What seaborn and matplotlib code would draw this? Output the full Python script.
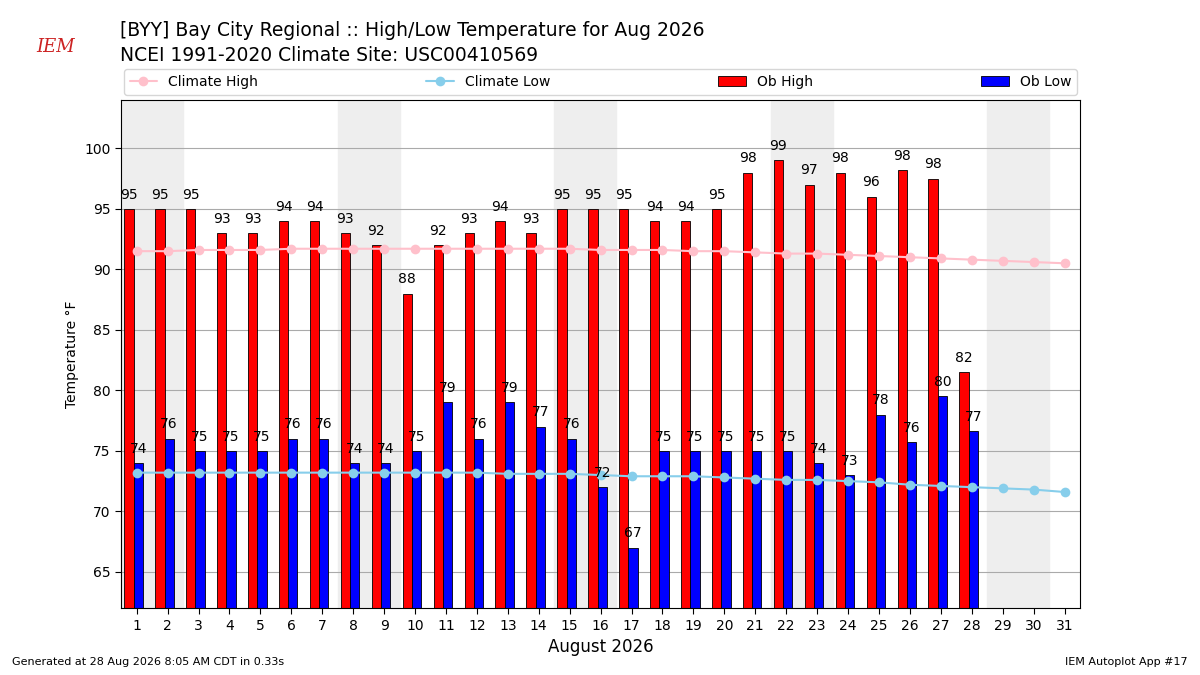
import matplotlib
matplotlib.use("Agg")
import matplotlib.pyplot as plt
import seaborn as sns
import numpy as np
import pandas as pd

days = list(range(1, 32))
obs_days = list(range(1, 29))
ob_high = [95, 95, 95, 93, 93, 94, 94, 93, 92, 88, 92, 93, 94, 93, 95, 95, 95, 94, 94, 95,
           98, 99, 97, 98, 96, 98.2, 97.5, 81.5]
ob_low = [74, 76, 75, 75, 75, 76, 76, 74, 74, 75, 79, 76, 79, 77, 76, 72, 67, 75, 75, 75,
          75, 75, 74, 73, 78, 75.7, 79.5, 76.6]
clim_high = [91.5, 91.5, 91.6, 91.6, 91.6, 91.7, 91.7, 91.7, 91.7, 91.7, 91.7, 91.7, 91.7, 91.7,
             91.7, 91.6, 91.6, 91.6, 91.5, 91.5, 91.4, 91.3, 91.3, 91.2, 91.1, 91.0, 90.9, 90.8,
             90.7, 90.6, 90.5]
clim_low = [73.2, 73.2, 73.2, 73.2, 73.2, 73.2, 73.2, 73.2, 73.2, 73.2, 73.2, 73.2, 73.1, 73.1,
            73.1, 73.0, 72.9, 72.9, 72.9, 72.8, 72.7, 72.6, 72.6, 72.5, 72.4, 72.2, 72.1, 72.0,
            71.9, 71.8, 71.6]
weekends = [(1, 2), (8, 9), (15, 16), (22, 23), (29, 30)]

sns.set_style("white")
plt.rcParams['font.family'] = ['DejaVu Sans']
plt.rcParams.update({"text.color": "black", "axes.labelcolor": "black",
                     "xtick.color": "black", "ytick.color": "black"})

fig = plt.figure(figsize=(12, 6.75), dpi=100)
ax = fig.add_axes([0.101, 0.099, 0.799, 0.753])

for a, b in weekends:
    ax.axvspan(a - 0.5, b + 0.5, color="#eeeeee", zorder=0)
ax.yaxis.grid(True, color="#aaaaaa", lw=0.8, zorder=1)
ax.set_axisbelow(True)

w = 0.3
xh = np.array(obs_days) - 0.25
xl = np.array(obs_days) + 0.05
ax.bar(xh, ob_high, width=w, color="red", edgecolor="black", lw=0.6, label="Ob High", zorder=2)
ax.bar(xl, ob_low, width=w, color="blue", edgecolor="black", lw=0.6, label="Ob Low", zorder=2)
for x, v in zip(xh, ob_high):
    ax.text(x, v + 0.6, f"{round(v):.0f}", ha="center", va="bottom", fontsize=10, zorder=5)
for x, v in zip(xl, ob_low):
    ax.text(x, v + 0.6, f"{round(v):.0f}", ha="center", va="bottom", fontsize=10, zorder=5)

df = pd.DataFrame({"day": days, "hi": clim_high, "lo": clim_low})
sns.lineplot(data=df, x="day", y="hi", ax=ax, color="pink", marker="o", markersize=7,
             markeredgewidth=0, label="Climate High", zorder=3)
sns.lineplot(data=df, x="day", y="lo", ax=ax, color="skyblue", marker="o", markersize=7,
             markeredgewidth=0, label="Climate Low", zorder=3)

ax.set_xlim(0.5, 31.5)
ax.set_ylim(62, 104)
ax.set_xticks(days)
ax.set_yticks(range(65, 101, 5))
ax.tick_params(axis="both", labelsize=10, length=4, bottom=True, left=True)
ax.set_xlabel("August 2026", fontsize=12)
ax.set_ylabel("Temperature °F", fontsize=10)
for s in ax.spines.values():
    s.set_color("black")

h, l = ax.get_legend_handles_labels()
order = [l.index(n) for n in ["Climate High", "Climate Low", "Ob High", "Ob Low"]]
ax.legend([h[i] for i in order], [l[i] for i in order], loc="lower left",
          bbox_to_anchor=(0, 1.005, 1, 0.1), mode="expand", ncol=4, fontsize=10,
          frameon=True, borderaxespad=0.2)

fig.text(0.1, 0.955, "[BYY] Bay City Regional :: High/Low Temperature for Aug 2026", fontsize=13.5, va="center")
fig.text(0.1, 0.918, "NCEI 1991-2020 Climate Site: USC00410569", fontsize=13.5, va="center")
fig.text(0.03, 0.93, "IEM", fontsize=13, color="#cc2222", style="italic", family="serif", va="center")
fig.text(0.01, 0.015, "Generated at 28 Aug 2026 8:05 AM CDT in 0.33s", fontsize=8)
fig.text(0.99, 0.015, "IEM Autoplot App #17", fontsize=8, ha="right")

fig.savefig("out.png", dpi=100)
